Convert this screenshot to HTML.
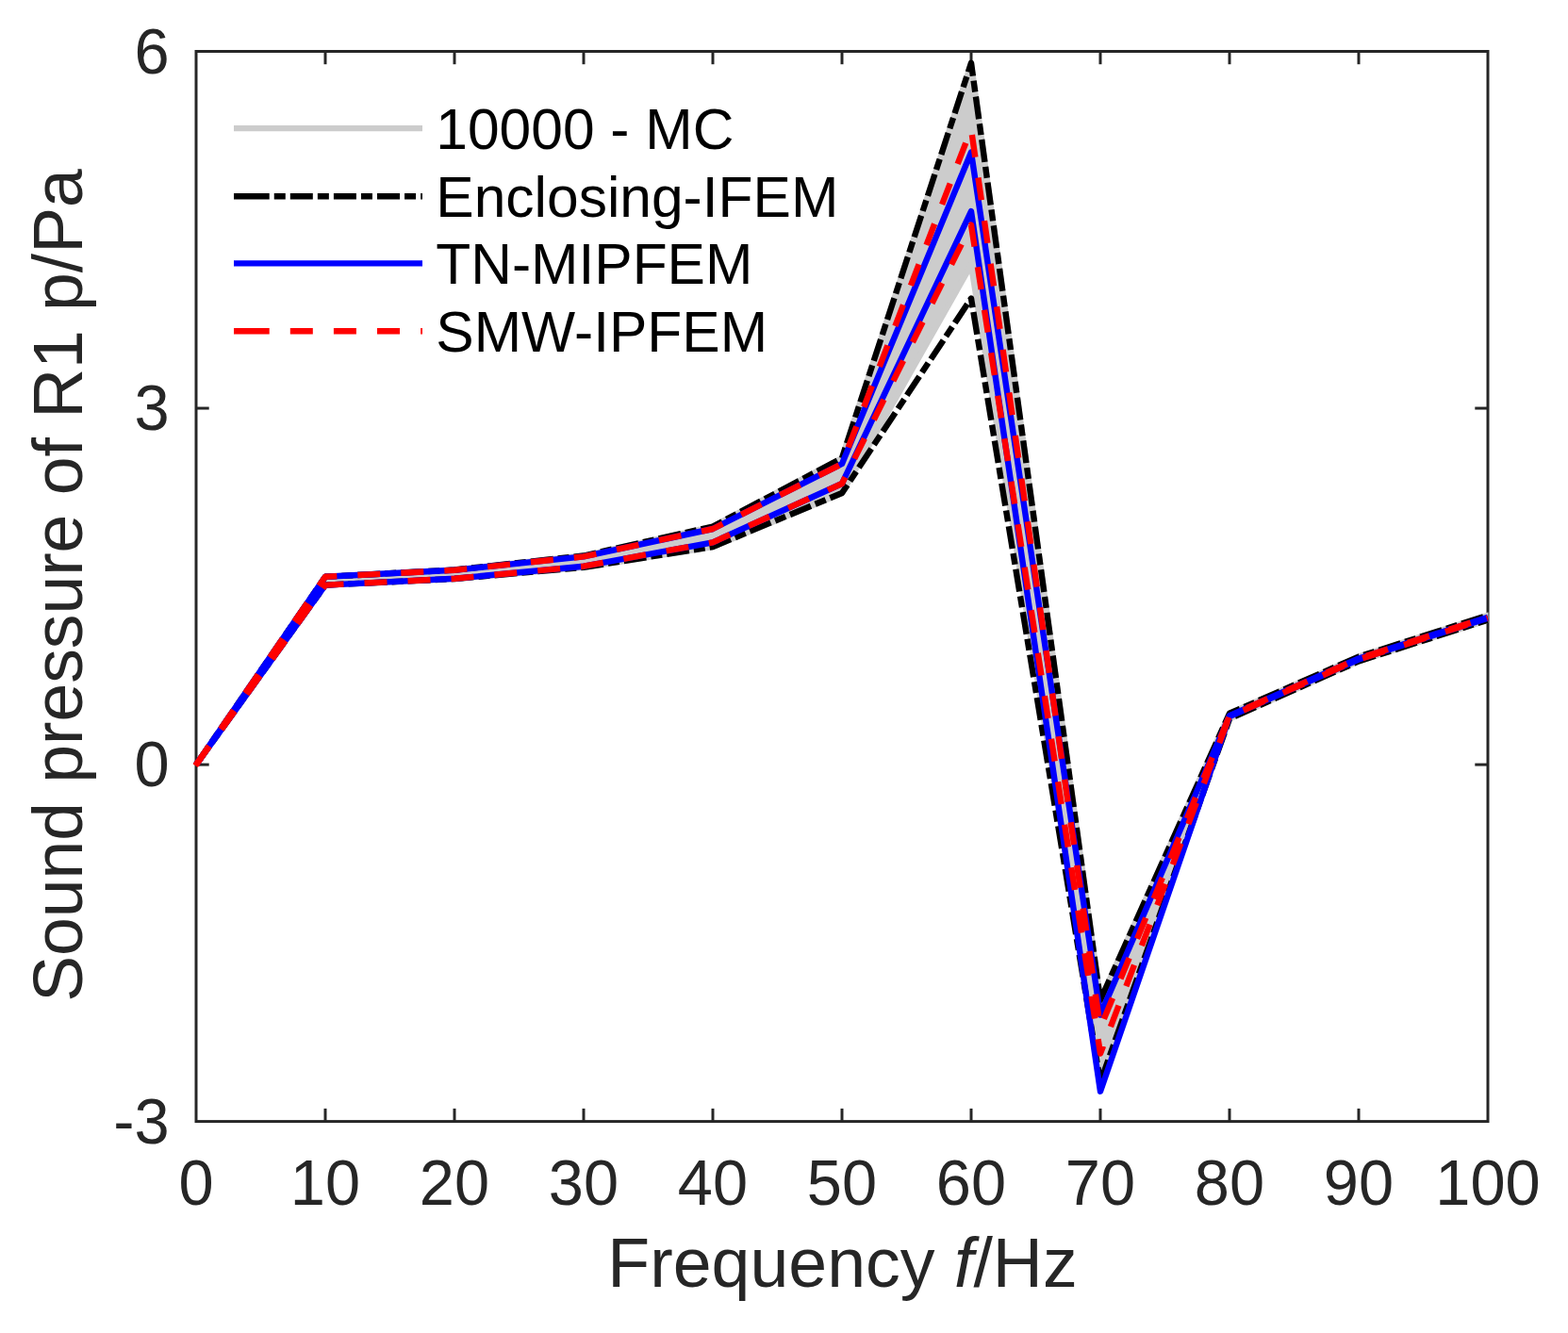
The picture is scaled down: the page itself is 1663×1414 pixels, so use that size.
<!DOCTYPE html>
<html lang="en">
<head>
<meta charset="utf-8">
<title>Sound pressure of R1</title>
<style>
html,body{margin:0;padding:0;background:#fff;}
body{width:1663px;height:1414px;overflow:hidden;}
svg{display:block;}
text{font-family:"Liberation Sans",sans-serif;}
.tick{font-size:68.5px;fill:#262626;}
.lab{font-size:73.5px;fill:#262626;}
.leg{font-size:60.5px;fill:#000;}
</style>
</head>
<body>
<svg width="1663" height="1414" viewBox="0 0 1663 1414">
<rect x="0" y="0" width="1663" height="1414" fill="#ffffff"/>
<defs><clipPath id="axclip"><rect x="200" y="53" width="1378.5" height="1138"/></clipPath></defs>

<g stroke="#262626" stroke-width="3" fill="none" stroke-linecap="butt">
<rect x="208" y="54.5" width="1370" height="1135.1"/>
<line x1="345" y1="1189.6" x2="345" y2="1175.9"/>
<line x1="345" y1="54.5" x2="345" y2="68.2"/>
<line x1="482" y1="1189.6" x2="482" y2="1175.9"/>
<line x1="482" y1="54.5" x2="482" y2="68.2"/>
<line x1="619" y1="1189.6" x2="619" y2="1175.9"/>
<line x1="619" y1="54.5" x2="619" y2="68.2"/>
<line x1="756" y1="1189.6" x2="756" y2="1175.9"/>
<line x1="756" y1="54.5" x2="756" y2="68.2"/>
<line x1="893" y1="1189.6" x2="893" y2="1175.9"/>
<line x1="893" y1="54.5" x2="893" y2="68.2"/>
<line x1="1030" y1="1189.6" x2="1030" y2="1175.9"/>
<line x1="1030" y1="54.5" x2="1030" y2="68.2"/>
<line x1="1167" y1="1189.6" x2="1167" y2="1175.9"/>
<line x1="1167" y1="54.5" x2="1167" y2="68.2"/>
<line x1="1304" y1="1189.6" x2="1304" y2="1175.9"/>
<line x1="1304" y1="54.5" x2="1304" y2="68.2"/>
<line x1="1441" y1="1189.6" x2="1441" y2="1175.9"/>
<line x1="1441" y1="54.5" x2="1441" y2="68.2"/>
<line x1="208" y1="433.05" x2="221.7" y2="433.05"/>
<line x1="1578" y1="433.05" x2="1564.3" y2="433.05"/>
<line x1="208" y1="811.1" x2="221.7" y2="811.1"/>
<line x1="1578" y1="811.1" x2="1564.3" y2="811.1"/>
</g>
<g class="tick" text-anchor="middle">
<text transform="translate(208,1278.3) scale(0.975,1)">0</text>
<text transform="translate(345,1278.3) scale(0.975,1)">10</text>
<text transform="translate(482,1278.3) scale(0.975,1)">20</text>
<text transform="translate(619,1278.3) scale(0.975,1)">30</text>
<text transform="translate(756,1278.3) scale(0.975,1)">40</text>
<text transform="translate(893,1278.3) scale(0.975,1)">50</text>
<text transform="translate(1030,1278.3) scale(0.975,1)">60</text>
<text transform="translate(1167,1278.3) scale(0.975,1)">70</text>
<text transform="translate(1304,1278.3) scale(0.975,1)">80</text>
<text transform="translate(1441,1278.3) scale(0.975,1)">90</text>
<text transform="translate(1578,1278.3) scale(0.975,1)">100</text>
</g>
<g class="tick" text-anchor="end">
<text transform="translate(179.6,77.8) scale(0.975,1)">6</text>
<text transform="translate(179.6,456.35) scale(0.975,1)">3</text>
<text transform="translate(179.6,834.4) scale(0.975,1)">0</text>
<text transform="translate(179.6,1212.9) scale(0.975,1)">-3</text>
</g>
<text class="lab" text-anchor="middle" x="893.5" y="1365.4">Frequency <tspan font-style="italic">f</tspan>/Hz</text>
<text class="lab" style="font-size:73.27px" text-anchor="middle" transform="translate(86.5,621) rotate(-90)" xml:space="preserve">Sound pressure of R1 p/Pa</text>
<g clip-path="url(#axclip)" fill="none" stroke-linejoin="round" stroke-linecap="butt">
<polygon points="212.0,805.4 345,611.8 482,604.5 619,589.5 756,558.5 893,486 1030,68 1167,1061 1304,756.8 1441,696.6 1578,652.8 1578,657.6 1441,701.4 1304,762.4 1167,1138 1030,281 893,523 756,580 619,601.8 482,614.0 345,620.6 212.0,805.6" fill="#cccccc" stroke="#cccccc" stroke-width="6.4"/>
<polyline points="208,811.2 345,611.8 482,604.5 619,589.5 756,558.5 893,486 1030,66.8 1167,1061 1304,756.8 1441,696.6 1578,652.8" stroke="#000" stroke-width="6.4" stroke-dasharray="24 5.03 12 5.02"/>
<polyline points="208,811.2 345,620.6 482,614.0 619,601.8 756,580 893,523 1030,316.5 1167,1148 1304,762.4 1441,701.4 1578,657.6" stroke="#000" stroke-width="6.4" stroke-dasharray="24 5.03 12 5.02"/>
<polyline points="208,811.2 345,611.8 482,604.8 619,590.4 756,561 893,492 1030,161.5 1167,1076.5 1304,759.2 1441,698.5 1578,654.8" stroke="#0000ff" stroke-width="6.4"/>
<polyline points="208,811.2 345,620.6 482,613.8 619,600.7 756,575.3 893,513 1030,224.2 1167,1157.7 1304,760 1441,699.5 1578,655.6" stroke="#0000ff" stroke-width="6.4"/>
<polyline points="208,811.2 345,611.8 482,604.8 619,590.4 756,561 893,492 1030,136.8 1167,1090.2 1304,759.2 1441,698.5 1578,654.8" stroke="#ff0000" stroke-width="6.4" stroke-dasharray="24 22.05"/>
<polyline points="208,811.2 345,620.6 482,613.8 619,600.7 756,575.3 893,513 1030,238.6 1167,1117.6 1304,760 1441,699.5 1578,655.6" stroke="#ff0000" stroke-width="6.4" stroke-dasharray="24 22.05"/>
<line x1="207.25" y1="812.3" x2="209" y2="809.75" stroke="#ff0000" stroke-width="6.4"/>
</g>
<g fill="none" stroke-width="6.4" stroke-linecap="butt">
<line x1="248" y1="136.1" x2="448" y2="136.1" stroke="#cccccc"/>
<line x1="248" y1="208.3" x2="448" y2="208.3" stroke="#000" stroke-dasharray="37.7 5.05 12 5.05 24 5.05 12 5.05 24 5.05 12 5.05 24 5.05 12 5.05 24 5.05"/>
<line x1="248" y1="279.4" x2="448" y2="279.4" stroke="#0000ff"/>
<line x1="248" y1="351.2" x2="448" y2="351.2" stroke="#ff0000" stroke-dasharray="37.7 22.1 24 22.1 24 22.1 24 22.1 24 22.1"/>
</g>
<g class="leg">
<text x="462.3" y="157.5">10000 - MC</text>
<text x="462.3" y="229.7">Enclosing-IFEM</text>
<text x="462.3" y="300.8">TN-MIPFEM</text>
<text x="462.3" y="372.6">SMW-IPFEM</text>
</g>
</svg>
</body>
</html>
